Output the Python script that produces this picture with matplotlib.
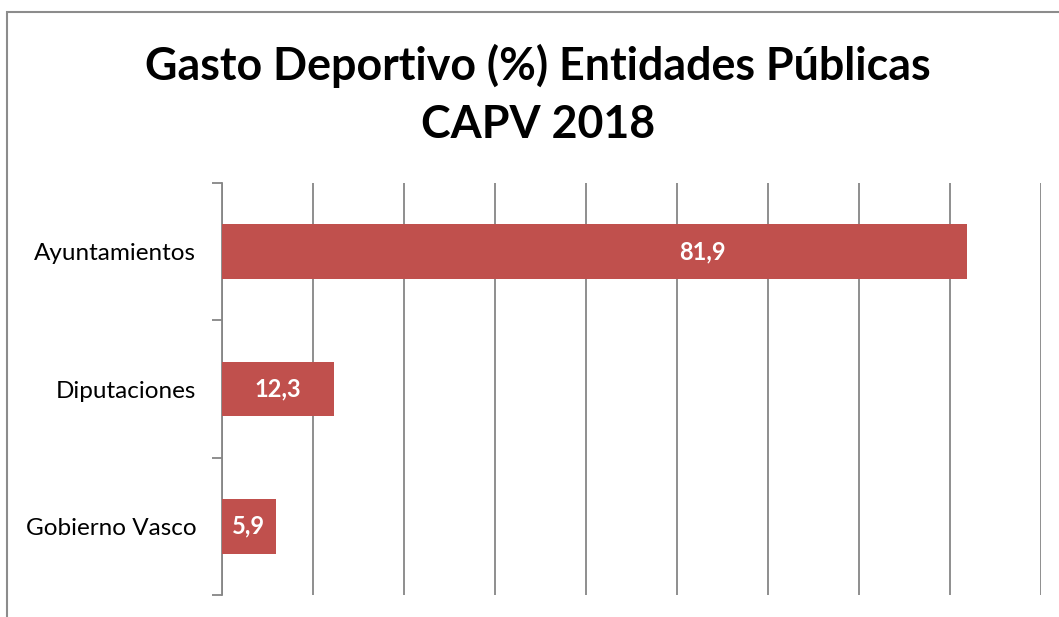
import matplotlib.pyplot as plt
from matplotlib.patches import Rectangle

plt.rcParams['font.family'] = ['Lato', 'DejaVu Sans']

categories = ['Gobierno Vasco', 'Diputaciones', 'Ayuntamientos']
values = [5.9, 12.3, 81.9]
labels = ['5,9', '12,3', '81,9']
title = 'Gasto Deportivo (%) Entidades Públicas\nCAPV 2018'

bar_color = '#C0504D'
grid_color = '#868686'

fig = plt.figure(figsize=(10.59, 6.17), dpi=100)
ax = fig.add_axes([222 / 1059, 1 - 595 / 617, (1041 - 222) / 1059, (595 - 183) / 617])

pos = list(range(len(categories)))
ax.barh(pos, values, height=0.4, color=bar_color, zorder=3)

for p, v, lab in zip(pos, values, labels):
    # Excel puts the big one a bit past the middle
    x = v * 0.645 if v > 50 else v / 2
    ax.text(x, p, lab, ha='center', va='center', color='white',
            fontsize=17, fontweight='bold', zorder=4)

ax.set_xlim(0, 90)
ax.set_ylim(-0.5, len(categories) - 0.5)
ax.set_xticks(range(0, 91, 10))
ax.tick_params(axis='x', length=0, labelbottom=False)
ax.grid(axis='x', color=grid_color, linewidth=1.3, zorder=0)

ax.set_yticks(pos)
ax.set_yticklabels(categories, fontsize=17.5)
ax.set_yticks([p - 0.5 for p in pos] + [pos[-1] + 0.5], minor=True)
ax.tick_params(axis='y', which='major', length=0, pad=18.5)
ax.tick_params(axis='y', which='minor', length=7, width=1.3, color=grid_color)

for s in ['top', 'right', 'bottom']:
    ax.spines[s].set_visible(False)
ax.spines['left'].set_color(grid_color)
ax.spines['left'].set_linewidth(1.3)

fig.text(0.508, 1 - 95 / 617, title, ha='center', va='center',
         fontsize=32.2, fontweight='bold', linespacing=1.45)

fig.patches.append(Rectangle((7 / 1059, -0.1), 1.2, 1.1 - 12 / 617,
                             transform=fig.transFigure, fill=False,
                             edgecolor='#8c8c8c', linewidth=1.5))

fig.savefig('out.png', dpi=100)
